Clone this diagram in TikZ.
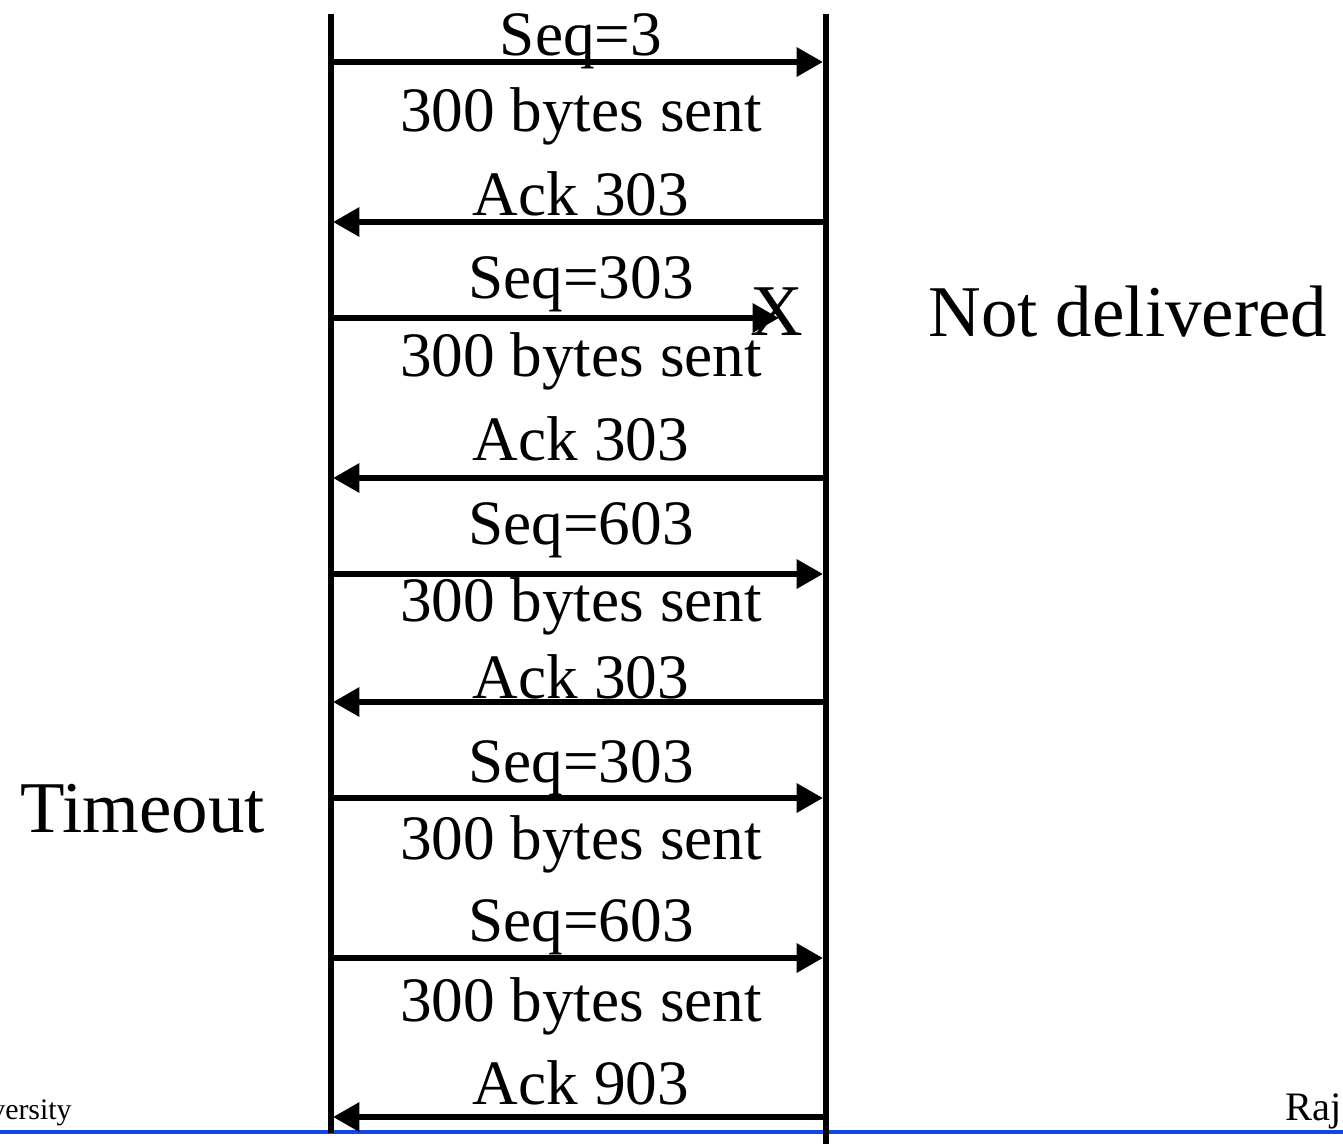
\documentclass[tikz,border=0pt]{standalone}
\usepackage{fontspec}
\setmainfont{Liberation Serif}
\usetikzlibrary{arrows.meta}
\definecolor{ruleblue}{HTML}{1446E6}
\tikzset{
  lifeline/.style={line width=3.4pt},
  msg/.style={-{Triangle[length=15pt,width=16pt]},line width=3.4pt},
  lbl/.style={anchor=base,inner sep=0pt,font=\fontsize{36}{40}\selectfont},
  side/.style={anchor=base west,inner sep=0pt,font=\fontsize{41.5}{48}\selectfont},
  footer/.style={inner sep=0pt,font=\fontsize{17}{20}\selectfont},
}

\begin{document}
\begin{tikzpicture}[x=0.02cm,y=-0.02cm]
  \useasboundingbox (0,0) rectangle (1343,1144);
  % footer rule and footer texts
  \draw[ruleblue,line width=2.3pt] (0,1132) -- (1343,1132);
  \node[footer,anchor=base east] (inst) at (72,1119) {University};
  \node[footer,anchor=base west,font=\fontsize{23}{26}\selectfont] (auth) at (1285,1120) {Raj};
  % the two hosts
  \coordinate (sndtop) at (331,14);
  \coordinate (sndbot) at (331,1133);
  \coordinate (rcvtop) at (826,14);
  \coordinate (rcvbot) at (826,1144);
  \draw[lifeline] (sndtop) -- (sndbot);
  \draw[lifeline] (rcvtop) -- (rcvbot);
  % message ends on both lines
  \foreach \y [count=\i] in {62,222,318,478,574,702,798,958,1117} {
    \coordinate (L\i) at (333,\y);
    \coordinate (R\i) at (823,\y);
  }
  \coordinate (lost) at (779,318);
  \draw[msg] (L1) -- (R1);
  \draw[msg] (R2) -- (L2);
  \draw[msg] (L3) -- (lost);
  \draw[msg] (R4) -- (L4);
  \draw[msg] (L5) -- (R5);
  \draw[msg] (R6) -- (L6);
  \draw[msg] (L7) -- (R7);
  \draw[msg] (L8) -- (R8);
  \draw[msg] (R9) -- (L9);
  % labels between the lines
  \foreach \b/\t [count=\i] in {55/Seq=3, 131/300 bytes sent, 215/Ack 303,
      298/Seq=303, 376/300 bytes sent, 460/Ack 303, 544/Seq=603,
      621/300 bytes sent, 698/Ack 303, 782/Seq=303, 859/300 bytes sent,
      941/Seq=603, 1021/300 bytes sent, 1104/Ack 903}
    \node[lbl] (lbl\i) at (581,\b) {\t};
  \node[side,anchor=base] (drop) at (777,335) {X};
  \node[side] (notdel) at (928,336) {Not delivered};
  \node[side] (tmo) at (20,832) {Timeout};
\end{tikzpicture}
\end{document}
